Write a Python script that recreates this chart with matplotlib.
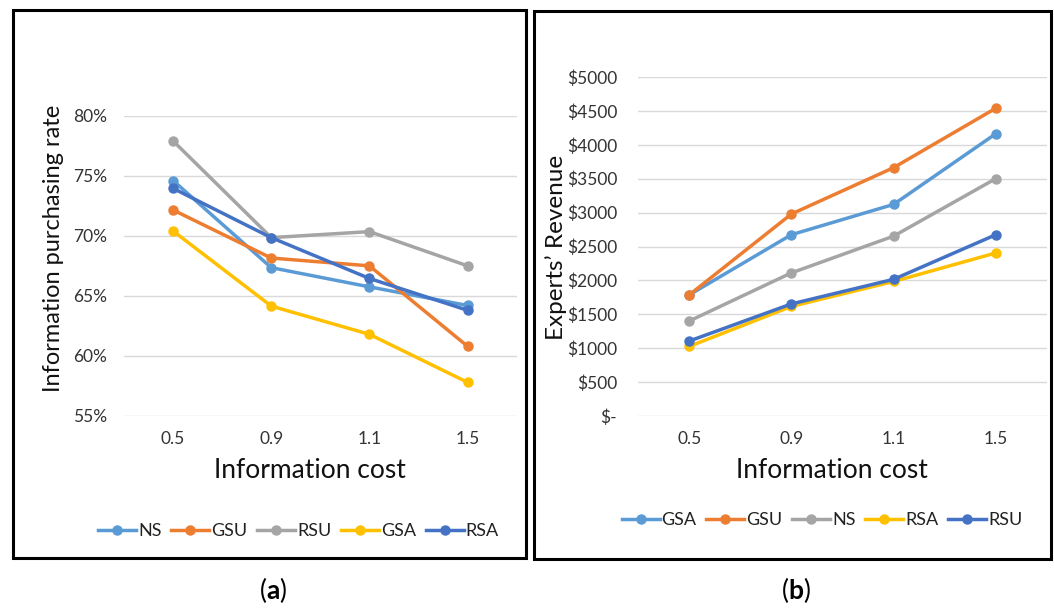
import matplotlib
matplotlib.use("Agg")
import matplotlib.pyplot as plt
from matplotlib.patches import Rectangle
from matplotlib.ticker import FuncFormatter

# ---------------- data ----------------
categories = ['0.5', '0.9', '1.1', '1.5']

# panel (a): information purchasing rate (%)
rate_series = ['NS', 'GSU', 'RSU', 'GSA', 'RSA']
rate_NS = [74.6, 67.35, 65.75, 64.2]
rate_GSU = [72.15, 68.15, 67.5, 60.8]
rate_RSU = [77.9, 69.85, 70.35, 67.5]
rate_GSA = [70.4, 64.15, 61.8, 57.8]
rate_RSA = [73.95, 69.85, 66.45, 63.8]
rate_ticks = [55, 60, 65, 70, 75, 80]

# panel (b): experts' revenue ($)
rev_series = ['GSA', 'GSU', 'NS', 'RSA', 'RSU']
rev_GSA = [1785, 2674, 3121, 4164]
rev_GSU = [1785, 2979, 3663, 4540]
rev_NS = [1400, 2111, 2653, 3502]
rev_RSA = [1026, 1616, 1984, 2405]
rev_RSU = [1105, 1653, 2016, 2674]
rev_ticks = [0, 500, 1000, 1500, 2000, 2500, 3000, 3500, 4000, 4500, 5000]

colors = {'NS': '#5B9BD5', 'GSU': '#ED7D31', 'RSU': '#A5A5A5',
          'GSA': '#FFC000', 'RSA': '#4472C4'}
colors_b = {'GSA': '#5B9BD5', 'GSU': '#ED7D31', 'NS': '#A5A5A5',
            'RSA': '#FFC000', 'RSU': '#4472C4'}

# ---------------- style ----------------
FONT = 'Lato'
plt.rcParams['font.family'] = [FONT, 'DejaVu Sans']
plt.rcParams['mathtext.fontset'] = 'custom'
plt.rcParams['mathtext.rm'] = FONT
plt.rcParams['mathtext.bf'] = FONT + ':bold'

W, H = 1054, 608
fig = plt.figure(figsize=(W / 100, H / 100), dpi=100)
fig.patch.set_facecolor('white')


def fx(px):
    return px / W


def fy(py):
    return 1 - py / H


def make_axes(x0, x1, y0, y1):
    return fig.add_axes([fx(x0), fy(y1), fx(x1 - x0), (y1 - y0) / H])


def style(ax, ylim, ticks, fmt, ypad):
    ax.set_xlim(0, len(categories))
    ax.set_ylim(*ylim)
    ax.set_xticks([i + 0.5 for i in range(len(categories))])
    ax.set_xticklabels(categories)
    ax.set_yticks(ticks)
    ax.yaxis.set_major_formatter(FuncFormatter(fmt))
    for s in ax.spines.values():
        s.set_visible(False)
    ax.grid(axis='y', color='#D9D9D9', linewidth=1.0)
    ax.set_axisbelow(True)
    ax.tick_params(axis='both', length=0, labelsize=12.5, labelcolor='#333333')
    ax.tick_params(axis='x', pad=11)
    ax.tick_params(axis='y', pad=ypad)


xs = [i + 0.5 for i in range(len(categories))]
LW, MS = 2.5, 6.5

# ---------- panel (a) ----------
axa = make_axes(124, 516.7, 115.7, 416)
rate_data = {'NS': rate_NS, 'GSU': rate_GSU, 'RSU': rate_RSU,
             'GSA': rate_GSA, 'RSA': rate_RSA}
ha = []
for name in rate_series:
    h, = axa.plot(xs, rate_data[name], color=colors[name], lw=LW,
                  marker='o', ms=MS, label=name, clip_on=False)
    ha.append(h)
style(axa, (55, 80), rate_ticks, lambda v, p: f'{v:.0f}%', 12)

# ---------- panel (b) ----------
axb = make_axes(638, 1047, 77, 416)
rev_data = {'GSA': rev_GSA, 'GSU': rev_GSU, 'NS': rev_NS,
            'RSA': rev_RSA, 'RSU': rev_RSU}
hb = []
for name in rev_series:
    h, = axb.plot(xs, rev_data[name], color=colors_b[name], lw=LW,
                  marker='o', ms=MS, label=name, clip_on=False)
    hb.append(h)
style(axb, (0, 5000), rev_ticks,
      lambda v, p: '$-' if v == 0 else f'${v:.0f}', 15)

# axis titles
fig.text(fx(54), fy(248), 'Information purchasing rate', rotation=90,
         ha='center', va='center', fontsize=17, color='#111111')
fig.text(fx(310), fy(471), 'Information cost', ha='center', va='center',
         fontsize=19, color='#111111')
fig.text(fx(556), fy(247), 'Experts\u2019 Revenue', rotation=90,
         ha='center', va='center', fontsize=17.5, color='#111111')
fig.text(fx(832), fy(471), 'Information cost', ha='center', va='center',
         fontsize=19, color='#111111')

# legends
leg_kw = dict(loc='center', ncol=5, frameon=False, fontsize=13,
              handlelength=2.1, handletextpad=0.1, columnspacing=0.55,
              borderpad=0, labelcolor='#222222')
fig.legend(handles=ha, bbox_to_anchor=(fx(298.5), fy(531)), **leg_kw)
fig.legend(handles=hb, bbox_to_anchor=(fx(822), fy(520)), **leg_kw)

# panel frames
fig.add_artist(Rectangle((fx(13), fy(558)), fx(526 - 13), (558 - 10) / H,
                         transform=fig.transFigure, fill=False,
                         edgecolor='black', lw=2.2))
fig.add_artist(Rectangle((fx(534), fy(559)), fx(1051 - 534), (559 - 11) / H,
                         transform=fig.transFigure, fill=False,
                         edgecolor='black', lw=2.2))

# captions
fig.text(fx(273), fy(590), r'($\mathbf{a}$)', ha='center', va='center',
         fontsize=19, color='black')
fig.text(fx(796), fy(590), r'($\mathbf{b}$)', ha='center', va='center',
         fontsize=19, color='black')

fig.savefig('out.png', dpi=100, facecolor='white')
